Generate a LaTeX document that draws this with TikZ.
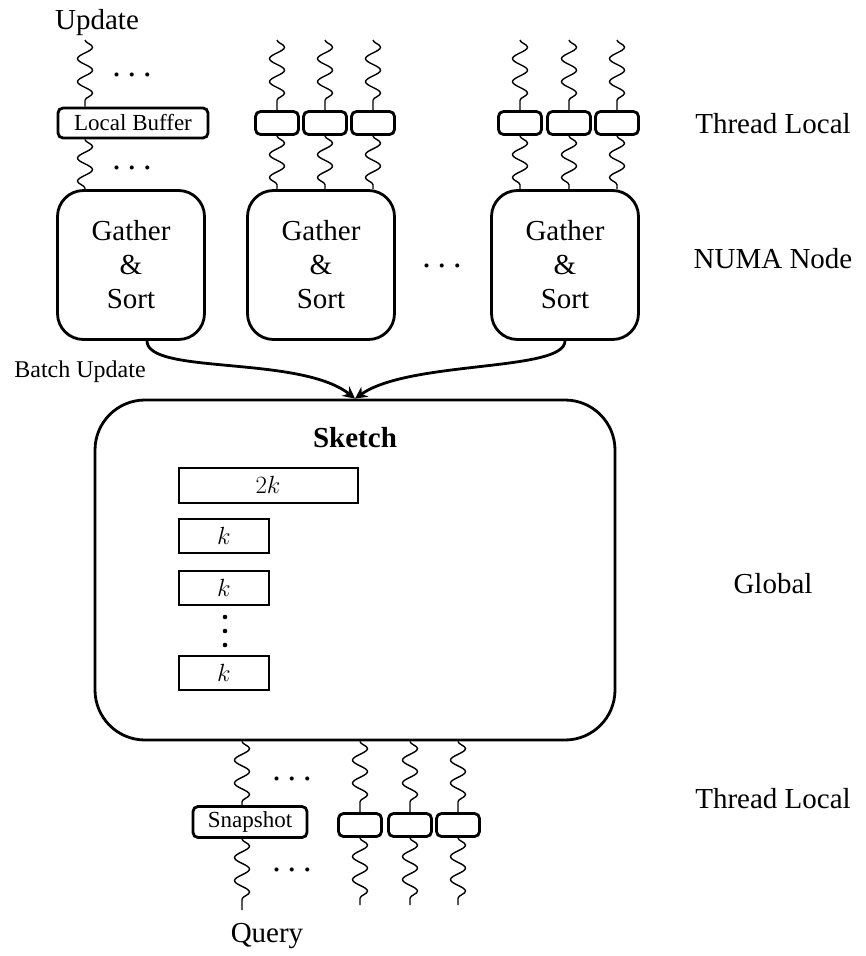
\documentclass[tikz,border=0pt]{standalone}
\usepackage{fontspec}
\setmainfont{Liberation Serif}
\usetikzlibrary{positioning, arrows.meta, decorations.pathmorphing}

\begin{document}
\begin{tikzpicture}[
  x=1pt, y=-1pt, >=Stealth,
  font=\fontsize{29}{34}\selectfont,
  stage/.style={draw, line width=2.8pt, rounded corners=26pt,
    minimum width=147pt, minimum height=149pt, align=center, inner sep=0pt},
  buf/.style={draw, line width=2.8pt, rounded corners=5pt,
    minimum width=43pt, minimum height=23pt, inner sep=0pt},
  namedbuf/.style={buf, font=\fontsize{23}{27}\selectfont},
  slot/.style={draw, line width=2pt, minimum width=90pt, minimum height=34pt,
    inner sep=0pt, font=\fontsize{23}{27}\selectfont},
  thread/.style={line width=1.4pt, decorate,
    decoration={snake, amplitude=7.5pt, segment length=23pt}},
  merge/.style={-{Stealth[length=12pt, width=12pt]}, line width=2.8pt},
  level/.style={anchor=base},
  etc/.style={anchor=base, font=\fontsize{34}{34}\selectfont}
]
\useasboundingbox (0,0) rectangle (865,956);

% NUMA nodes
\node[stage] (g1) at (131,265) {Gather\\\&\\Sort};
\node[stage] (g2) at (321,265) {Gather\\\&\\Sort};
\node[stage] (g3) at (565,265) {Gather\\\&\\Sort};
\node[etc] (gdots) at (442,267) {.\kern7pt.\kern7pt.};

% update threads with their local buffers
\node[namedbuf, minimum width=150pt, minimum height=30pt] (lb) at (133,123) {Local Buffer};
\node[level] (upd) at (97,29) {Update};
\coordinate (u0) at (85,40);
\draw[thread] (u0) -- (u0 |- lb.north);
\draw[thread] (u0 |- lb.south) -- (u0 |- g1.north);
\node[etc] (udots1) at (132,76) {.\kern7pt.\kern7pt.};
\node[etc] (udots2) at (132,169) {.\kern7pt.\kern7pt.};

\foreach \x [count=\i] in {277,325,373} {
  \node[buf] (b2\i) at (\x,123) {};
  \draw[thread] (\x,40) -- (b2\i.north);
  \draw[thread] (b2\i.south) -- (b2\i |- g2.north);
}
\foreach \x [count=\i] in {520,569,617} {
  \node[buf] (b3\i) at (\x,123) {};
  \draw[thread] (\x,40) -- (b3\i.north);
  \draw[thread] (b3\i.south) -- (b3\i |- g3.north);
}

% global sketch
\node[draw, line width=2.8pt, rounded corners=50pt,
  minimum width=520pt, minimum height=340pt] (sketch) at (355,570) {};
\node[level, font=\fontsize{29}{34}\selectfont\bfseries] (title) at (355,447) {Sketch};
\node[slot, minimum width=179pt, minimum height=35pt] (s0) at (268,485) {$2k$};
\node[slot] (s1) at (224,536) {$k$};
\node[slot] (s2) at (224,588) {$k$};
\node[slot] (s3) at (224,673) {$k$};
\foreach \y in {617,631,645}
  \fill (225,\y) circle (2.3pt);

% batch updates into the sketch
\draw[merge] ([xshift=16pt]g1.south) .. controls (147,375) and (300,355) .. (sketch.north);
\draw[merge] (g3.south) .. controls (565,372) and (410,360) .. (sketch.north);
\node[level, font=\fontsize{24}{28}\selectfont] (batch) at (80,377) {Batch Update};

% query threads with snapshots
\node[namedbuf, minimum width=114pt, minimum height=31pt] (snap) at (250,822) {Snapshot};
\coordinate (q0) at (242,910);
\draw[thread] (q0 |- sketch.south) -- (q0 |- snap.north);
\draw[thread] (q0 |- snap.south) -- (q0);
\node[etc] (qdots1) at (292,780) {.\kern7pt.\kern7pt.};
\node[etc] (qdots2) at (292,871) {.\kern7pt.\kern7pt.};
\node[level] (query) at (267,942) {Query};

\foreach \x [count=\i] in {360,410,458} {
  \node[buf] (c\i) at (\x,825) {};
  \draw[thread] (c\i |- sketch.south) -- (c\i.north);
  \draw[thread] (c\i.south) -- (\x,905);
}

% levels
\node[level] (lv1) at (773,133) {Thread Local};
\node[level] (lv2) at (773,268) {NUMA Node};
\node[level] (lv3) at (773,593) {Global};
\node[level] (lv4) at (773,808) {Thread Local};
\end{tikzpicture}
\end{document}
